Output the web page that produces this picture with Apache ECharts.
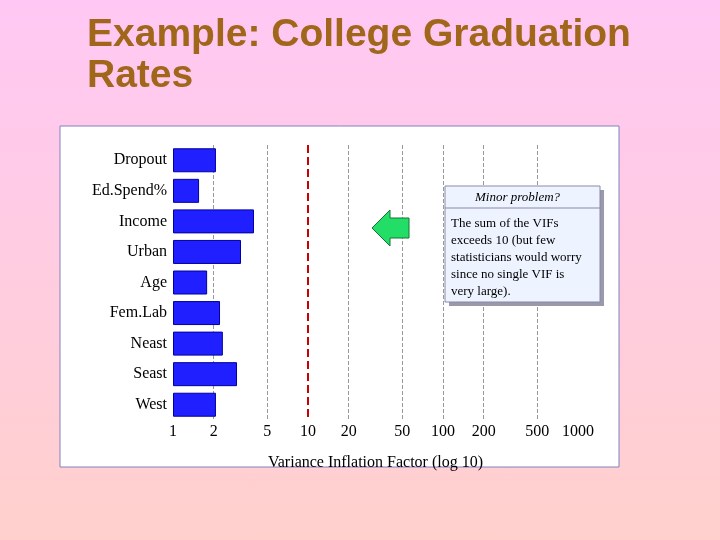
<!DOCTYPE html>
<html><head><meta charset="utf-8">
<script src="https://cdn.jsdelivr.net/npm/echarts@6/dist/echarts.min.js"></script>
<style>html,body{margin:0;padding:0;}#c{width:720px;height:540px;background:linear-gradient(#ffc8f4,#ffd0cc);}</style>
</head><body><div id="c"></div>
<script>
const categories = ['Dropout','Ed.Spend%','Income','Urban','Age','Fem.Lab','Neast','Seast','West'];
const vif = [2.08,1.56,3.98,3.19,1.79,2.23,2.34,2.98,2.08];
const ticks = [1,2,5,10,20,50,100,200,500,1000];
const chart = echarts.init(document.getElementById('c'));
const serif = '"Liberation Serif","DejaVu Serif",serif';
chart.setOption({
  animation:false,
  graphic:[
    {type:'text',left:87,top:15,style:{text:'Example: College Graduation\nRates',font:'bold 39px "Liberation Sans",Arial,sans-serif',fill:'#a0661a',lineHeight:41}},
    {type:'rect',z:-10,shape:{x:60,y:126,width:559,height:341},style:{fill:'#fff',stroke:'#8080c0',lineWidth:1}},
    {type:'polygon',z:100,shape:{points:[[372,228],[390,210],[390,218],[409,218],[409,238],[390,238],[390,246]]},style:{fill:'#22dd66',stroke:'#117733',lineWidth:1}},
    {type:'rect',z:100,shape:{x:449,y:190,width:155,height:116},style:{fill:'#9999aa'}},
    {type:'rect',z:101,shape:{x:445,y:186,width:155,height:116},style:{fill:'#eef4ff',stroke:'#8888aa',lineWidth:1}},
    {type:'line',z:102,shape:{x1:445,y1:208,x2:600,y2:208},style:{stroke:'#8888aa',lineWidth:1}},
    {type:'text',z:102,left:475,top:191,style:{text:'Minor problem?',font:'italic 13px '+serif,fill:'#000'}},
    {type:'text',z:102,left:451,top:215,style:{text:'The sum of the VIFs\nexceeds 10 (but few\nstatisticians would worry\nsince no single VIF is\nvery large).',font:'13px '+serif,fill:'#000',lineHeight:17}}
  ],
  grid:{left:173,right:142,top:145,bottom:120},
  xAxis:{type:'log',logBase:10,min:1,max:1000,axisLine:{show:false},axisTick:{show:false},axisLabel:{show:false},splitLine:{show:false},
    name:'Variance Inflation Factor (log 10)',nameLocation:'middle',nameGap:35,nameTextStyle:{fontFamily:serif,fontSize:16,color:'#000'}},
  yAxis:{type:'category',data:categories,inverse:true,axisLine:{show:false},axisTick:{show:false},
    axisLabel:{fontFamily:serif,fontSize:16,color:'#000',margin:6}},
  series:[{type:'bar',z:5,data:vif,barWidth:24,itemStyle:{color:'#1f1fff',borderColor:'#0000a0',borderWidth:1},
    markLine:{symbol:'none',silent:true,z:1,
      data:ticks.map(t=>({xAxis:t,lineStyle:{type:'dashed',width:t===10?2:1,color:t===10?'#cc0000':(t===1||t===1000?'rgba(0,0,0,0)':'#999')},
        label:{show:true,position:'end',formatter:String(t),distance:4,fontFamily:serif,fontSize:16,color:'#000'}}))}
  }]
});
</script></body></html>
